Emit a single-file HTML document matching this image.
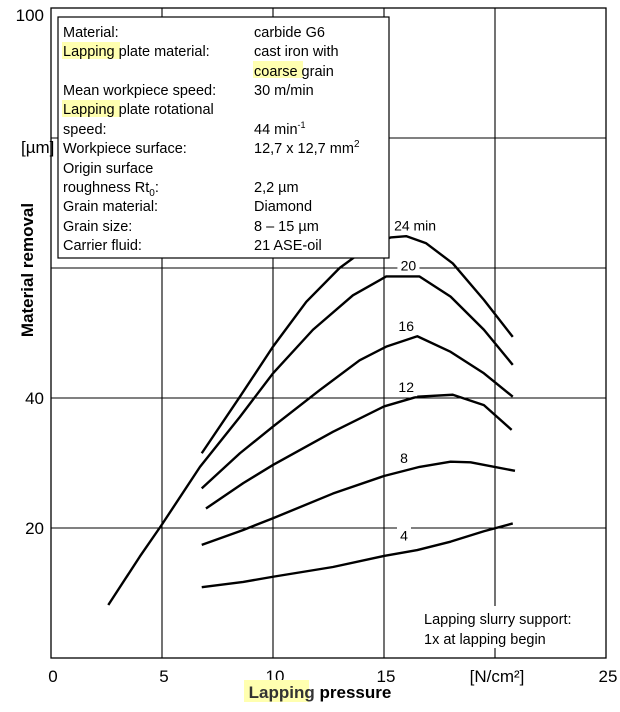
<!DOCTYPE html>
<html><head><meta charset="utf-8"><style>
html,body{margin:0;padding:0;background:#fff}
svg{display:block;font-family:"Liberation Sans",sans-serif}
</style></head><body>
<svg width="620" height="712" viewBox="0 0 620 712">
<g id="grid"></g>
<g id="curves"></g>
<g id="labels"></g>
<rect x="51" y="8" width="555" height="650" fill="none" stroke="#000" stroke-width="1.3"/>
<g id="ticks" font-size="17"></g>
<text x="21" y="153" font-size="17">[µm]</text>
<text x="0" y="0" transform="translate(33,270) rotate(-90)" text-anchor="middle" font-size="17" font-weight="bold">Material removal</text>
<rect x="244" y="680" width="65" height="22" fill="#ffffb0"/>
<text x="320" y="698" text-anchor="middle" font-size="17" font-weight="bold"><tspan fill="#333">Lapping</tspan> pressure</text>
<g font-size="14.5">
<rect x="58" y="17" width="331" height="241" fill="#fff" stroke="#000" stroke-width="1.2"/>
<rect x="62" y="42" width="58" height="17" fill="#ffffb0"/>
<rect x="253" y="61" width="50" height="17" fill="#ffffb0"/>
<rect x="62" y="100" width="58" height="17" fill="#ffffb0"/>
<text x="63" y="37">Material:</text><text x="254" y="37">carbide G6</text>
<text x="63" y="56">Lapping plate material:</text><text x="254" y="56">cast iron with</text>
<text x="254" y="76">coarse grain</text>
<text x="63" y="95">Mean workpiece speed:</text><text x="254" y="95">30 m/min</text>
<text x="63" y="114">Lapping plate rotational</text>
<text x="63" y="134">speed:</text><text x="254" y="134">44 min<tspan font-size="9" dy="-6">-1</tspan></text>
<text x="63" y="153">Workpiece surface:</text><text x="254" y="153">12,7 x 12,7 mm<tspan font-size="10" dy="-6">2</tspan></text>
<text x="63" y="173">Origin surface</text>
<text x="63" y="192">roughness Rt<tspan font-size="10" dy="4">0</tspan><tspan dy="-4">:</tspan></text><text x="254" y="192">2,2 µm</text>
<text x="63" y="211">Grain material:</text><text x="254" y="211">Diamond</text>
<text x="63" y="231">Grain size:</text><text x="254" y="231">8 – 15 µm</text>
<text x="63" y="250">Carrier fluid:</text><text x="254" y="250">21 ASE-oil</text>
</g>
<g font-size="14.5">
<rect x="420" y="606" width="170" height="42" fill="#fff"/>
<text x="424" y="624">Lapping slurry support:</text>
<text x="424" y="644">1x at lapping begin</text>
</g>
</svg>
<script>
const xTicks=[0,5,10,15,20,25];
const xTickLabels=["0","5","10","15","[N/cm²]","25"];
const yTicks=[20,40,100];
const yTickLabels=["20","40","100"];
const gridX=[5,10,15,20];
const gridY=[20,40,60,80];
const seriesNames=["24 min","20","16","12","8","4"];
const s24x=[6.79,8.51,10.0,11.5,13.0,14.2,15.3,16.0,16.9,18.1,19.5,20.8];
const s24y=[31.5,40.2,47.9,54.8,60.0,63.0,64.7,64.9,63.8,60.7,55.1,49.4];
const s20x=[2.58,4.0,4.99,6.71,8.51,10.0,11.8,13.6,15.1,16.6,18.0,19.5,20.8];
const s20y=[8.15,15.6,20.5,29.4,37.1,43.8,50.5,55.8,58.7,58.7,55.6,50.5,45.1];
const s16x=[6.79,8.51,10.0,12.1,13.9,15.1,16.5,18.0,19.5,20.8];
const s16y=[26.1,31.5,35.6,41.2,45.8,47.9,49.5,47.1,43.8,40.2];
const s12x=[6.98,8.66,10.0,12.7,15.0,16.5,18.1,19.5,20.75];
const s12y=[23.0,26.9,29.7,34.8,38.7,40.2,40.5,38.9,35.1];
const s8x=[6.79,8.66,10.0,12.7,15.0,16.6,18.0,18.9,20.9];
const s8y=[17.4,19.7,21.5,25.3,28.0,29.4,30.2,30.1,28.8];
const s4x=[6.79,8.66,10.0,12.7,15.0,16.5,18.0,19.5,20.8];
const s4y=[10.9,11.7,12.5,14.0,15.7,16.6,17.9,19.5,20.7];
const labelX=[16.4,16.1,16.0,16.0,15.9,15.9];
const labelY=[65.8,59.6,50.3,40.9,30.0,18.1];

const NS="http://www.w3.org/2000/svg";
const X=v=>51+v*22.2, Y=v=>658-v*6.5;
function mk(tag,parent){const e=document.createElementNS(NS,tag);parent.appendChild(e);return e;}
const g=document.getElementById('grid'),c=document.getElementById('curves'),lb=document.getElementById('labels'),tk=document.getElementById('ticks');
gridX.forEach(v=>{const l=mk('line',g);


l.setAttribute('x1',X(v));l.setAttribute('x2',X(v));l.setAttribute('y1',8);l.setAttribute('y2',658);l.setAttribute('stroke','#000');l.setAttribute('stroke-width','1.1');});
gridY.forEach(v=>{const l=mk('line',g);


l.setAttribute('x1',51);l.setAttribute('x2',606);l.setAttribute('y1',Y(v));l.setAttribute('y2',Y(v));l.setAttribute('stroke','#000');l.setAttribute('stroke-width','1.1');});
const sx=[s24x,s20x,s16x,s12x,s8x,s4x],sy=[s24y,s20y,s16y,s12y,s8y,s4y];
sx.forEach((xs,i)=>{const p=mk('polyline',c);


p.setAttribute('points',xs.map((x,j)=>X(x)+','+Y(sy[i][j])).join(' '));
p.setAttribute('fill','none');p.setAttribute('stroke','#000');p.setAttribute('stroke-width','2.4');p.setAttribute('stroke-linejoin','round');});
seriesNames.forEach((n,i)=>{const w=n.length*8+6;const r=mk('rect',lb);


r.setAttribute('x',X(labelX[i])-w/2);r.setAttribute('y',Y(labelY[i])-13);r.setAttribute('width',w);r.setAttribute('height',17);r.setAttribute('fill','#fff');
const t=mk('text',lb);


t.setAttribute('x',X(labelX[i]));t.setAttribute('y',Y(labelY[i]));t.setAttribute('text-anchor','middle');t.setAttribute('font-size','14');t.textContent=n;});
xTicks.forEach((v,i)=>{const t=mk('text',tk);


t.setAttribute('x',X(v)+2);t.setAttribute('y',682);t.setAttribute('text-anchor','middle');t.textContent=xTickLabels[i];});
yTicks.forEach((v,i)=>{const t=mk('text',tk);


t.setAttribute('x',44);t.setAttribute('y',Y(v)+(v==100?13:6));t.setAttribute('text-anchor','end');t.textContent=yTickLabels[i];});
</script>
</body></html>
